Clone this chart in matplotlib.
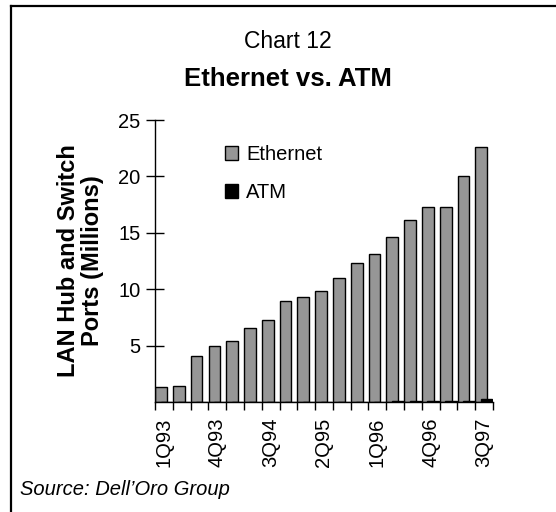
import numpy as np
import matplotlib.pyplot as plt
from matplotlib.lines import Line2D

quarters = ['1Q93', '2Q93', '3Q93', '4Q93', '1Q94', '2Q94', '3Q94', '4Q94',
            '1Q95', '2Q95', '3Q95', '4Q95', '1Q96', '2Q96', '3Q96', '4Q96',
            '1Q97', '2Q97', '3Q97']
ethernet = [1.3, 1.45, 4.1, 5.0, 5.4, 6.6, 7.3, 8.95, 9.35, 9.8, 10.95,
            12.3, 13.15, 14.6, 16.1, 17.25, 17.25, 20.0, 22.6]
atm = [0, 0, 0, 0, 0, 0, 0, 0, 0, 0, 0, 0, 0, 0.1, 0.1, 0.1, 0.12, 0.12, 0.3]

plt.rcParams['font.family'] = ['Liberation Sans', 'DejaVu Sans']

W, H = 556, 512
fig = plt.figure(figsize=(W / 100, H / 100), dpi=100)
ax = fig.add_axes([155 / W, 1 - 402 / H, (493 - 155) / W, (402 - 120) / H])

x = np.arange(len(quarters))
ax.bar(x - 0.16, ethernet, width=0.66, color='#969696', edgecolor='black',
       linewidth=1, label='Ethernet', zorder=2)
ax.bar(x + 0.14, atm, width=0.66, color='black', edgecolor='black',
       linewidth=1, label='ATM', zorder=3)

ax.set_xlim(-0.5, len(quarters) - 0.5)
ax.set_ylim(0, 25)
ax.set_yticks([5, 10, 15, 20, 25])
ax.tick_params(axis='y', direction='inout', length=13, width=1, labelsize=14.5, pad=4)

# labels every third quarter, tick marks on category boundaries
ax.set_xticks(x[::3])
ax.set_xticklabels(quarters[::3], rotation=90, fontsize=14.5)
ax.set_xticks(np.arange(-0.5, len(quarters)), minor=True)
ax.tick_params(axis='x', which='major', length=0, pad=11)
ax.tick_params(axis='x', which='minor', direction='out', length=6, width=1)

for s in ['top', 'right']:
    ax.spines[s].set_visible(False)
for s in ['left', 'bottom']:
    ax.spines[s].set_linewidth(1)

ax.set_ylabel('LAN Hub and Switch\nPorts (Millions)', fontsize=17,
              fontweight='bold', linespacing=1.05)
ax.yaxis.set_label_coords(-0.15, 0.5)

ax.legend(loc='upper left', bbox_to_anchor=(225 / W, 1 - 145 / H),
          bbox_transform=fig.transFigure, frameon=False, fontsize=14.5,
          handlelength=0.65, handleheight=0.65, handletextpad=0.4,
          labelspacing=0.95, borderpad=0, borderaxespad=0)

fig.text(288 / W, 1 - 48 / H, 'Chart 12', ha='center', va='baseline', fontsize=16.5)
fig.text(288 / W, 1 - 86 / H, 'Ethernet vs. ATM', ha='center', va='baseline',
         fontsize=18.5, fontweight='bold')
fig.text(20 / W, 1 - 495 / H, 'Source: Dell\u2019Oro Group', ha='left',
         va='baseline', fontsize=14.5, style='italic')

# frame lines along the top and left edge
fig.add_artist(Line2D([10.5 / W, 10.5 / W], [0, 1 - 6 / H], color='black', lw=1.6))
fig.add_artist(Line2D([10.5 / W, 1], [1 - 6 / H, 1 - 6 / H], color='black', lw=1.6))

fig.savefig('out.png', dpi=100)
